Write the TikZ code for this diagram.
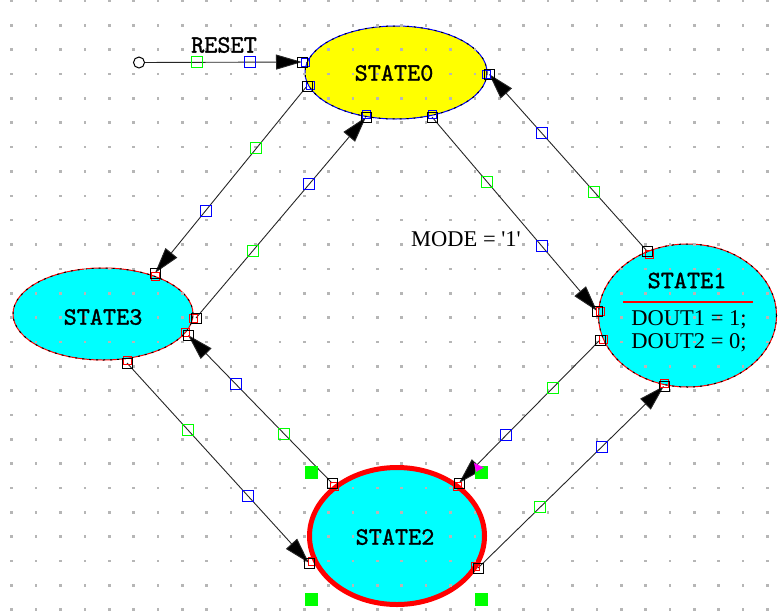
\documentclass[tikz,border=0pt]{standalone}
\usepackage{fontspec}
\setmainfont{Liberation Serif}
\newfontfamily\statefont[AutoFakeBold=1.2]{lmmono10-regular.otf}
\usetikzlibrary{shapes.geometric,arrows.meta}
\definecolor{griddot}{RGB}{182,182,182}
\definecolor{fcyan}{RGB}{0,255,255}
\definecolor{fyellow}{RGB}{255,255,0}
\definecolor{fgreen}{RGB}{0,255,0}
\definecolor{fblue}{RGB}{0,0,255}
\definecolor{fred}{RGB}{255,0,0}
\definecolor{fmagenta}{RGB}{255,0,255}
\tikzset{
  state/.style={ellipse, inner sep=0pt, line width=1pt},
  sname/.style={font=\fontsize{25}{27}\selectfont\statefont\bfseries, inner sep=0pt},
  stext/.style={font=\fontsize{22.5}{25}\selectfont\rmfamily, inner sep=0pt},
  conn/.style={line width=0.9pt, draw=black!85},
  arr/.style={-{Triangle[length=26pt,width=15pt,fill=black]}},
  gbox/.style={rectangle, draw=fgreen, line width=1.2pt, minimum size=11pt, inner sep=0pt},
  bbox/.style={rectangle, draw=fblue, line width=1.2pt, minimum size=11pt, inner sep=0pt},
  handle/.style={rectangle, fill=fgreen, minimum size=13pt, inner sep=0pt},
}
\begin{document}
\begin{tikzpicture}[x=1pt,y=-1pt]
\fill[white] (0,0) rectangle (781,611);
\useasboundingbox (0,0) rectangle (781,611);

% states (fills and outlines)
\node[state, fill=fyellow, draw=fblue, minimum width=182pt, minimum height=93pt] (s0) at (396,72.5) {};
\node[state, fill=fcyan, draw=fred, minimum width=178pt, minimum height=143pt] (s1) at (687.5,315.5) {};
\node[state, fill=fcyan, draw=fred, line width=5pt, minimum width=175pt, minimum height=137pt] (s2) at (397,536) {};
\node[state, fill=fcyan, draw=fred, minimum width=180pt, minimum height=92pt] (s3) at (103,314) {};
\draw[black, line width=1pt, dash pattern=on 2pt off 5pt] (s0.center) ellipse [x radius=91pt, y radius=46.5pt];
\draw[black, line width=1pt, dash pattern=on 2pt off 5pt] (s1.center) ellipse [x radius=89pt, y radius=71.5pt];
\draw[black, line width=1pt, dash pattern=on 2pt off 5pt] (s3.center) ellipse [x radius=90pt, y radius=46pt];

% grid dots
\foreach \i in {0,...,31}
  \foreach \j in {0,...,25}
    \fill[griddot] ({11.7+24.38*\i-1.3},{1+24.35*\j-1.3}) rectangle +(2.6,2.6);

% state texts
\node[sname] (t0) at (394,73) {STATE0};
\node[sname] (t1) at (687,280.5) {STATE1};
\node[sname] (t2) at (395,537) {STATE2};
\node[sname] (t3) at (103,317) {STATE3};
\coordinate (sepL) at (623,302);
\coordinate (sepR) at (753,302);
\draw[fred, line width=1.3pt] (sepL) -- (sepR);
\node[stext] (d1) at (689,319.5) {DOUT1 = 1;};
\node[stext] (d2) at (689,343) {DOUT2 = 0;};

% labels
\node[sname] (lreset) at (224,45) {RESET};
\node[stext] (lmode) at (466,239) {MODE = \textquotesingle1\textquotesingle};

% connector end points
\coordinate (c1b) at (302,62);
\coordinate (c2a) at (307,86);  \coordinate (c2b) at (155,273);
\coordinate (c3a) at (196,318); \coordinate (c3b) at (366,117);
\coordinate (c4a) at (432,117); \coordinate (c4b) at (597,311);
\coordinate (c5a) at (647,251); \coordinate (c5b) at (489,74);
\coordinate (c6a) at (600,340); \coordinate (c6b) at (459,483);
\coordinate (c7a) at (478,568); \coordinate (c7b) at (664,386);
\coordinate (c8a) at (332,483); \coordinate (c8b) at (188,335);
\coordinate (c9a) at (127,363); \coordinate (c9b) at (309,563);

% initial point
\node[circle, draw=black, fill=white, line width=1pt, minimum size=11pt, inner sep=0pt] (init) at (139,62.5) {};

% connectors
\draw[conn, arr] (init) -- node[gbox, pos=1/3] (g1) {} node[bbox, pos=2/3] (b1) {} (c1b);
\draw[conn, arr] (c2a) -- node[gbox, pos=1/3] (g2) {} node[bbox, pos=2/3] (b2) {} (c2b);
\draw[conn, arr] (c3a) -- node[gbox, pos=1/3] (g3) {} node[bbox, pos=2/3] (b3) {} (c3b);
\draw[conn, arr] (c4a) -- node[gbox, pos=1/3] (g4) {} node[bbox, pos=2/3] (b4) {} (c4b);
\draw[conn, arr] (c5a) -- node[gbox, pos=1/3] (g5) {} node[bbox, pos=2/3] (b5) {} (c5b);
\draw[conn, arr] (c6a) -- node[gbox, pos=1/3] (g6) {} node[bbox, pos=2/3] (b6) {} (c6b);
\draw[conn, arr] (c7a) -- node[gbox, pos=1/3] (g7) {} node[bbox, pos=2/3] (b7) {} (c7b);
\draw[conn, arr] (c8a) -- node[gbox, pos=1/3] (g8) {} node[bbox, pos=2/3] (b8) {} (c8b);
\draw[conn, arr] (c9a) -- node[gbox, pos=1/3] (g9) {} node[bbox, pos=2/3] (b9) {} (c9b);

% end point markers
\foreach \p/\c/\dx/\dy in {c1b/fblue/3/0, c2a/fblue/3/-1, c3b/fblue/0/-3, c4a/fblue/0/-3, c5b/fblue/-3/0,
  c4b/fred/3/0, c5a/fred/2/3, c6a/fred/3/-1, c7b/fred/0/-3,
  c6b/fred/-2/3, c7a/fred/-3/-2, c8a/fred/2/3, c9b/fred/3/-2,
  c2b/fred/0/3, c3a/fred/-3/0, c8b/fred/-3/-3, c9a/fred/0/-3}{
  \draw[\c, line width=1pt] ([shift={(\dx,\dy)}]\p) +(-4,-4) rectangle +(4,4);
  \draw[black, line width=1pt] (\p) +(-5,-5) rectangle +(5,5);
}

% selection handles of STATE2
\node[handle] (h1) at (311,472) {};
\node[handle] (h2) at (481,472) {};
\node[handle] (h3) at (311,599) {};
\node[handle] (h4) at (481,599) {};
\fill[fmagenta] (474,463) -- (484,467.5) -- (476,472) -- cycle;
\end{tikzpicture}
\end{document}
